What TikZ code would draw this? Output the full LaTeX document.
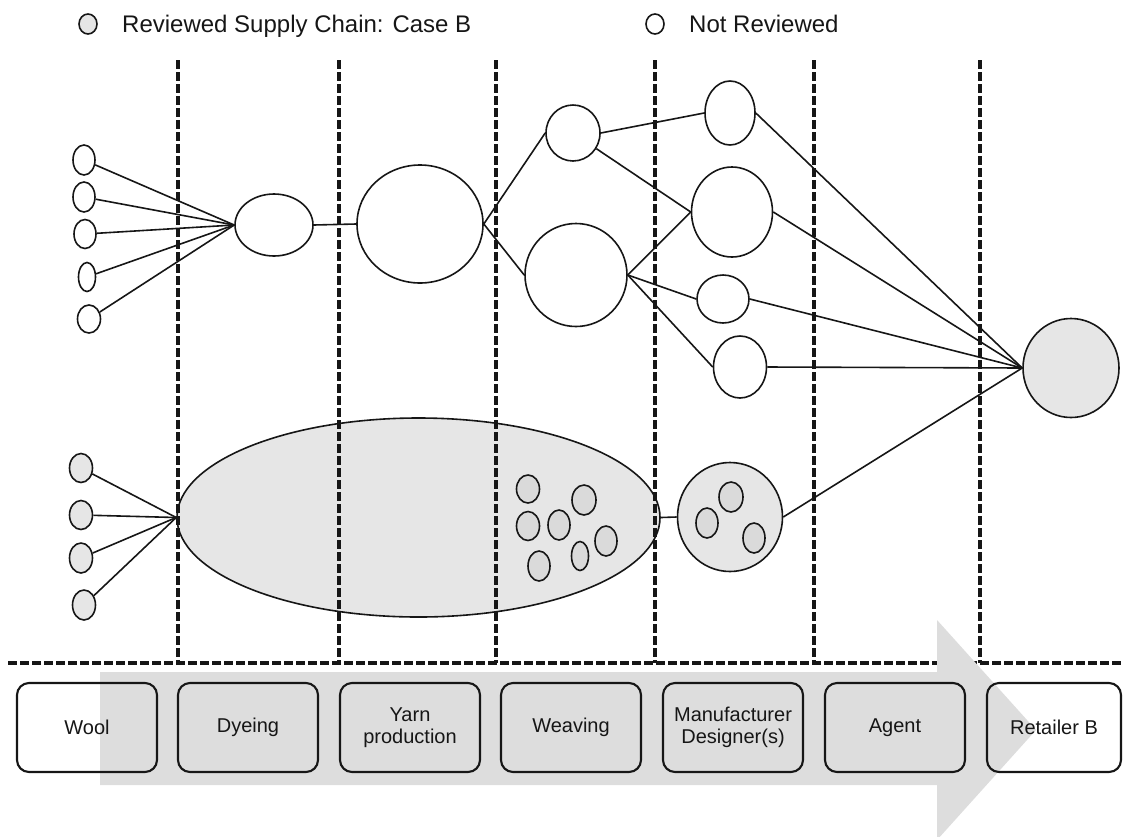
\documentclass[tikz,border=0pt]{standalone}
\usepackage{fontspec}
\setmainfont{Liberation Sans}
\usetikzlibrary{shapes.geometric}
\definecolor{ink}{HTML}{161616}
\definecolor{paleshade}{HTML}{E6E6E6}
\definecolor{midshade}{HTML}{DADADA}
\definecolor{arrowshade}{HTML}{DDDDDD}
\begin{document}
\begin{tikzpicture}[x=1pt,y=-1pt,
  blob/.style={ellipse, draw=ink, line width=1.6pt, inner sep=0pt},
  wblob/.style={blob, fill=white},
  gblob/.style={blob, fill=paleshade},
  iblob/.style={blob, fill=midshade},
  link/.style={draw=ink, line width=1.6pt},
  divider/.style={draw=ink, line width=3.2pt, dash pattern=on 8.5pt off 3.5pt},
  stagebox/.style={draw=ink, rounded corners=12pt, line width=2.1pt,
    minimum width=140pt, minimum height=89pt, inner sep=2pt, align=center,
    font=\fontsize{20}{22}\selectfont, text=ink},
  keytext/.style={anchor=base west, font=\fontsize{24}{27}\selectfont, text=ink, inner sep=0pt}
]
\useasboundingbox (0,0) rectangle (1123,836);
\clip (0,0) rectangle (1123,836);

% legend
\node[blob, fill=midshade!70!white, minimum width=18pt, minimum height=20pt] (keyrev) at (88,24) {};
\node[keytext] (keyrevtxt) at (122,32) {Reviewed Supply Chain: Case B};
\node[wblob, minimum width=18pt, minimum height=20pt] (keynot) at (655,24) {};
\node[keytext] (keynottxt) at (689,32) {Not Reviewed};

% upper (not reviewed) network
\node[wblob, minimum width=22pt, minimum height=30pt] (u1) at (84,160) {};
\node[wblob, minimum width=22pt, minimum height=30pt] (u2) at (84,197) {};
\node[wblob, minimum width=22pt, minimum height=29pt] (u3) at (85,234) {};
\node[wblob, minimum width=17pt, minimum height=29pt] (u4) at (87,277) {};
\node[wblob, minimum width=23pt, minimum height=28pt] (u5) at (89,319) {};
\node[wblob, minimum width=78pt, minimum height=62pt] (udye) at (274,225) {};
\node[wblob, minimum width=126pt, minimum height=118pt] (uyarn) at (420,224) {};
\node[wblob, minimum width=54pt, minimum height=56pt] (uwv1) at (573,133) {};
\node[wblob, minimum width=102pt, minimum height=103pt] (uwv2) at (576,275) {};
\node[wblob, minimum width=50pt, minimum height=64pt] (um1) at (730,113) {};
\node[wblob, minimum width=81pt, minimum height=90pt] (um2) at (732,212) {};
\node[wblob, minimum width=52pt, minimum height=48pt] (um3) at (723,299) {};
\node[wblob, minimum width=53pt, minimum height=62pt] (um4) at (740,367) {};
\node[gblob, minimum width=96pt, minimum height=99pt] (retail) at (1071,368) {};

% lower (reviewed) network
\node[gblob, minimum width=23pt, minimum height=29pt] (l1) at (81,468) {};
\node[gblob, minimum width=23pt, minimum height=29pt] (l2) at (81,515) {};
\node[gblob, minimum width=23pt, minimum height=30pt] (l3) at (81,558) {};
\node[gblob, minimum width=23pt, minimum height=30pt] (l4) at (84,605) {};
\node[gblob, minimum width=483pt, minimum height=199pt] (lbig) at (418.5,517.5) {};
\node[iblob, minimum width=23pt, minimum height=28pt] (lw1) at (528,489) {};
\node[iblob, minimum width=24pt, minimum height=30pt] (lw2) at (584,500) {};
\node[iblob, minimum width=23pt, minimum height=29pt] (lw3) at (528,526) {};
\node[iblob, minimum width=22pt, minimum height=30pt] (lw4) at (559,525) {};
\node[iblob, minimum width=22pt, minimum height=30pt] (lw5) at (606,541) {};
\node[iblob, minimum width=17pt, minimum height=29pt] (lw6) at (580,556) {};
\node[iblob, minimum width=22pt, minimum height=30pt] (lw7) at (539,566) {};
\node[gblob, minimum width=105pt, minimum height=109pt] (lman) at (730,517) {};
\node[iblob, minimum width=22pt, minimum height=30pt] (lm1) at (707,523) {};
\node[iblob, minimum width=24pt, minimum height=30pt] (lm2) at (731,497) {};
\node[iblob, minimum width=22pt, minimum height=30pt] (lm3) at (754,538) {};

% stage dividers
\coordinate (d1t) at (178,60);  \coordinate (d1b) at (178,663);
\coordinate (d2t) at (339,60);  \coordinate (d2b) at (339,663);
\coordinate (d3t) at (496,60);  \coordinate (d3b) at (496,663);
\coordinate (d4t) at (655,60);  \coordinate (d4b) at (655,663);
\coordinate (d5t) at (814,60);  \coordinate (d5b) at (814,663);
\coordinate (d6t) at (980,60);  \coordinate (d6b) at (980,663);
\coordinate (hl) at (8,663);    \coordinate (hr) at (1121,663);
\foreach \d in {1,...,6} {\draw[divider] (d\d t) -- (d\d b);}
\draw[divider] (hl) -- (hr);

% connectors, upper network
\foreach \s in {u1,u2,u3,u4,u5} {\draw[link] (\s) -- (udye.west);}
\draw[link] (udye.east) -- (uyarn.west);
\draw[link] (uyarn.east) -- (uwv1.west);
\draw[link] (uyarn.east) -- (uwv2.west);
\draw[link] (uwv1.east) -- (um1.west);
\draw[link] (uwv1) -- (um2.west);
\draw[link] (uwv2.east) -- (um2.west);
\draw[link] (uwv2.east) -- (um3.west);
\draw[link] (uwv2.east) -- (um4.west);
\draw[link] (um1.east) -- (retail.west);
\draw[link] (um2.east) -- (retail.west);
\draw[link] (um3.east) -- (retail.west);
\draw[link] (um4.east) -- (retail.west);

% connectors, lower network
\foreach \s in {l1,l2,l3,l4} {\draw[link] (\s) -- (lbig.west);}
\draw[link] (lbig.east) -- (lman.west);
\draw[link] (lman.east) -- (retail.west);

% flow arrow
\fill[arrowshade] (100,672) -- (937,672) -- (937,620) -- (1036,730)
  -- (937,840) -- (937,785) -- (100,785) -- cycle;

% stages
\node[stagebox] (swool) at (87,727.5) {Wool};
\node[stagebox] (sdye) at (248,727.5) {Dyeing};
\node[stagebox] (syarn) at (410,727.5) {Yarn\\production};
\node[stagebox] (sweave) at (571,727.5) {Weaving};
\node[stagebox] (sman) at (733,727.5) {Manufacturer\\Designer(s)};
\node[stagebox] (sagent) at (895,727.5) {Agent};
\node[stagebox, minimum width=134pt] (sretail) at (1054,727.5) {Retailer B};
\end{tikzpicture}
\end{document}
